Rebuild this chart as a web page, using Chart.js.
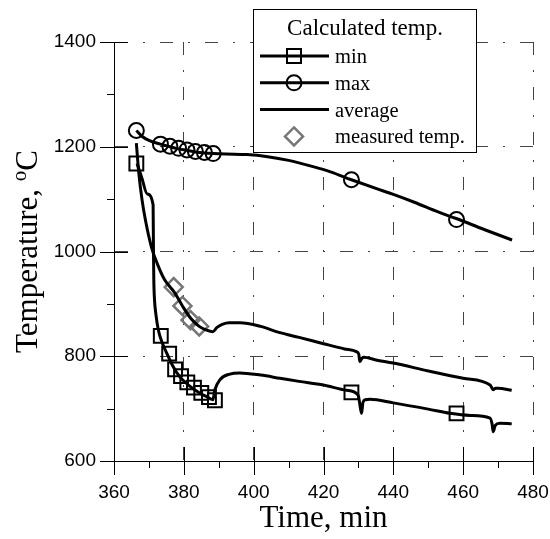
<!DOCTYPE html>
<html>
<head>
<meta charset="utf-8">
<script src="https://cdn.jsdelivr.net/npm/chart.js@4.4.0/dist/chart.umd.min.js"></script>
<style>
  html, body { margin: 0; padding: 0; background: #fff; }
</style>
</head>
<body>
<canvas id="tempChart" width="550" height="539"></canvas>
<script>
// axis ticks
const timeMajor = [360, 380, 400, 420, 440, 460, 480]
const timeMinor = [370, 390, 410, 430, 450, 470]
const tempMajor = [600, 800, 1000, 1200, 1400]
const tempMinor = [700, 900, 1100, 1300]

// calculated max
const maxTime = [366.4, 368, 370, 373.3, 376, 378.5, 381, 383.3, 386, 388.4, 392, 398, 404, 410, 417, 422, 428, 436, 440, 446, 453, 458, 466, 474]
const maxTemp = [1231, 1220, 1212, 1205, 1200, 1196, 1193, 1190, 1188, 1187, 1186, 1185, 1181, 1174, 1162, 1152, 1137, 1118, 1109, 1094, 1075, 1063, 1042, 1022]
const maxMarkTime = [366.4, 373.3, 376, 378.5, 380.9, 383.3, 385.9, 388.4, 428, 458.1]
const maxMarkTemp = [1231, 1205, 1201, 1197, 1194, 1191, 1189, 1187, 1137, 1061]

// calculated min
const minTime = [366.6, 368, 369.5, 371.2, 371.3, 371.4, 371.6, 372.0, 372.7, 373.8, 375.1, 376.8, 378.8, 381.5, 384.5, 386.5, 388.3, 388.9, 390.3, 393.2, 396, 402, 407.5, 413, 420, 426.6, 429.9, 430.6, 430.9, 431.3, 432, 433.3, 440, 450, 456.2, 462, 467.7, 468.3, 468.6, 469.2, 470.5, 473.9]
const minTemp = [1168, 1140, 1110, 1089, 1003, 946, 908, 880, 850, 826, 806, 782, 761, 744, 730, 723, 717, 736, 755, 766, 768, 764, 758, 752, 745, 735, 726, 700, 691, 712, 717, 718, 711, 699, 691, 687, 682, 670, 656, 668, 672, 671]
const minMarkTime = [366.4, 373.4, 375.8, 377.5, 379.2, 381, 382.9, 385, 387.2, 388.9, 428, 458.1]
const minMarkTemp = [1168, 839, 805, 775, 762, 750, 740, 730, 722, 716, 731, 691]

// calculated average
const avgTime = [366.4, 367.1, 368, 369, 370.7, 372.5, 374.5, 377.4, 379.6, 381.9, 384.4, 386.5, 388.3, 389.5, 391, 393, 396, 402, 407.5, 413, 420, 426, 429.4, 430.1, 430.4, 431, 431.6, 435, 440, 450, 460, 467.7, 468.2, 468.6, 469.3, 470, 473.9]
const avgTemp = [1207, 1150, 1100, 1060, 1009, 975, 946, 921, 896, 873, 857, 850, 847, 855, 861, 864, 864, 857, 845, 836, 824, 814, 809, 804, 790, 796, 798, 793, 787, 772, 758, 745, 740, 736, 739, 739, 735]

// measured
const measTime = [377.1, 379.6, 381.9, 384.4]
const measTemp = [932, 896, 869, 857]

const legendTitle = 'Calculated temp.'
const legendLabels = ['min', 'max', 'average', 'measured temp.']

const pts = (xs, ys) => xs.map((x, i) => ({ x: x, y: ys[i] }))
const serif = 'Liberation Serif'

const lineSet = (label, xs, ys) => ({
  label: label,
  data: pts(xs, ys),
  showLine: true,
  borderColor: '#000',
  borderWidth: 3,
  pointRadius: 0,
  cubicInterpolationMode: 'monotone',
})

const markSet = (label, xs, ys, style, r, color, w) => ({
  label: label,
  data: pts(xs, ys),
  showLine: false,
  pointStyle: style,
  pointRadius: r,
  pointBorderColor: color,
  pointBorderWidth: w,
  pointBackgroundColor: 'rgba(0,0,0,0)',
})

function marker(ctx, style, x, y) {
  ctx.save()
  ctx.beginPath()
  if (style === 'rect') {
    ctx.strokeStyle = '#000'; ctx.lineWidth = 2
    ctx.rect(x - 7, y - 7, 14, 14)
  } else if (style === 'circle') {
    ctx.strokeStyle = '#000'; ctx.lineWidth = 2
    ctx.arc(x, y, 7.5, 0, Math.PI * 2)
  } else {
    ctx.strokeStyle = '#777'; ctx.lineWidth = 2.5
    ctx.moveTo(x, y - 9); ctx.lineTo(x + 9, y); ctx.lineTo(x, y + 9); ctx.lineTo(x - 9, y); ctx.closePath()
  }
  ctx.stroke()
  ctx.restore()
}

const decor = {
  id: 'decor',
  afterDraw(chart) {
    const ctx = chart.ctx
    const xs = chart.scales.x, ys = chart.scales.y
    const a = chart.chartArea
    ctx.save()
    // tick marks
    ctx.strokeStyle = '#000'
    ctx.lineWidth = 1
    ctx.setLineDash([])
    ctx.beginPath()
    timeMajor.forEach(v => {
      const p = Math.round(xs.getPixelForValue(v)) + 0.5
      ctx.moveTo(p, a.bottom - 14); ctx.lineTo(p, a.bottom + 14)
    })
    timeMinor.forEach(v => {
      const p = Math.round(xs.getPixelForValue(v)) + 0.5
      ctx.moveTo(p, a.bottom); ctx.lineTo(p, a.bottom + 7)
    })
    tempMajor.forEach(v => {
      const p = Math.round(ys.getPixelForValue(v)) + 0.5
      ctx.moveTo(a.left - 14, p); ctx.lineTo(a.left + 14, p)
    })
    tempMinor.forEach(v => {
      const p = Math.round(ys.getPixelForValue(v)) + 0.5
      ctx.moveTo(a.left - 7, p); ctx.lineTo(a.left, p)
    })
    ctx.stroke()

    // axis titles
    ctx.fillStyle = '#000'
    ctx.textBaseline = 'alphabetic'
    ctx.font = '31px "' + serif + '"'
    ctx.textAlign = 'center'
    ctx.fillText('Time, min', (a.left + a.right) / 2, 527)

    ctx.save()
    ctx.translate(37, (a.top + a.bottom) / 2)
    ctx.rotate(-Math.PI / 2)
    ctx.textAlign = 'left'
    const p1 = 'Temperature, ', p2 = 'o', p3 = 'C'
    ctx.font = '31px "' + serif + '"'
    const w1 = ctx.measureText(p1).width, w3 = ctx.measureText(p3).width
    ctx.font = '21px "' + serif + '"'
    const w2 = ctx.measureText(p2).width
    let x0 = -(w1 + w2 + w3) / 2
    ctx.font = '31px "' + serif + '"'
    ctx.fillText(p1, x0, 0)
    ctx.font = '21px "' + serif + '"'
    ctx.fillText(p2, x0 + w1, -11)
    ctx.font = '31px "' + serif + '"'
    ctx.fillText(p3, x0 + w1 + w2, 0)
    ctx.restore()

    // legend
    ctx.fillStyle = '#fff'
    ctx.fillRect(253.5, 9.5, 223, 143)
    ctx.strokeStyle = '#000'
    ctx.lineWidth = 1
    ctx.strokeRect(253.5, 9.5, 223, 143)
    ctx.fillStyle = '#000'
    ctx.font = '23px "' + serif + '"'
    ctx.textAlign = 'center'
    ctx.fillText(legendTitle, 365, 35)
    ctx.textAlign = 'left'
    ctx.font = '20.5px "' + serif + '"'
    const styles = ['rect', 'circle', null, 'diamond']
    legendLabels.forEach((t, i) => {
      const base = 63 + i * 26.8
      const ly = base - 7
      if (i < 3) {
        ctx.beginPath()
        ctx.strokeStyle = '#000'
        ctx.lineWidth = 3
        ctx.moveTo(260, ly); ctx.lineTo(329, ly)
        ctx.stroke()
      }
      if (styles[i]) marker(ctx, styles[i], 294, ly)
      ctx.fillText(t, 335, base)
    })
    ctx.restore()
  }
}

new Chart(document.getElementById('tempChart').getContext('2d'), {
  type: 'scatter',
  data: {
    datasets: [
      lineSet('average', avgTime, avgTemp),
      lineSet('min', minTime, minTemp),
      lineSet('max', maxTime, maxTemp),
      markSet('min', minMarkTime, minMarkTemp, 'rect', 9.8, '#000', 2),
      markSet('max', maxMarkTime, maxMarkTemp, 'circle', 7.5, '#000', 2),
      markSet('measured temp.', measTime, measTemp, 'rectRot', 9, '#777', 2.5),
    ],
  },
  options: {
    responsive: false,
    animation: false,
    events: [],
    layout: { padding: { top: 42, right: 17, left: 0, bottom: 0 } },
    plugins: { legend: { display: false }, tooltip: { enabled: false } },
    scales: {
      x: {
        type: 'linear',
        min: 360,
        max: 480,
        afterBuildTicks: s => { s.ticks = timeMajor.map(v => ({ value: v })) },
        afterFit: s => { s.height = 78; s.paddingLeft = 0; s.paddingRight = 0 },
        ticks: { color: '#000', padding: 20, maxRotation: 0, autoSkip: false, callback: v => String(v), font: { family: 'Liberation Sans', size: 19 } },
        grid: { color: '#444', lineWidth: 1, drawTicks: false },
        border: { display: true, color: '#000', width: 1, dash: [13, 15, 2, 15] },
      },
      y: {
        type: 'linear',
        min: 600,
        max: 1400,
        afterBuildTicks: s => { s.ticks = tempMajor.map(v => ({ value: v })) },
        afterFit: s => { s.width = 114; s.paddingTop = 0; s.paddingBottom = 0 },
        ticks: { color: '#000', padding: 18, autoSkip: false, callback: v => String(v), font: { family: 'Liberation Sans', size: 19 } },
        grid: { color: '#444', lineWidth: 1, drawTicks: false },
        border: { display: true, color: '#000', width: 1, dash: [13, 15, 2, 15] },
      },
    },
  },
  plugins: [decor],
})
</script>
</body>
</html>
